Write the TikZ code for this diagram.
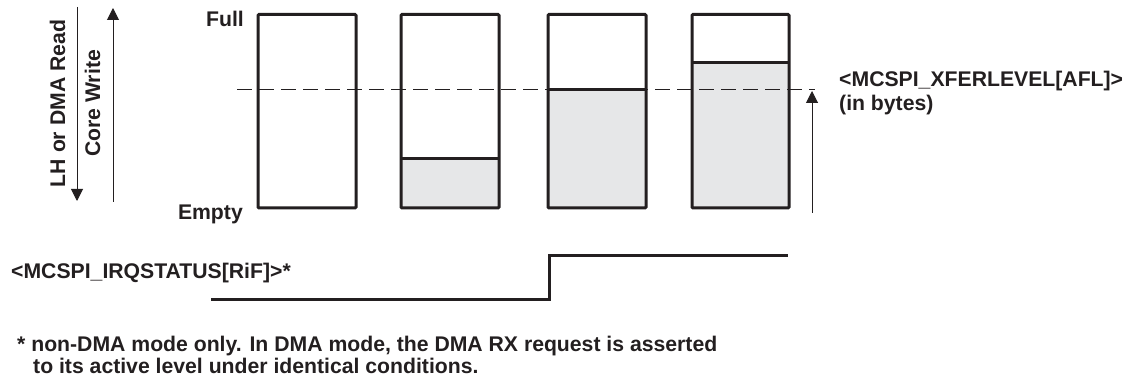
\documentclass[tikz,border=0pt]{standalone}
\usepackage{fontspec}
\setmainfont{Liberation Sans}
\usetikzlibrary{arrows.meta}
\definecolor{ink}{HTML}{231F20}
\definecolor{fifo}{HTML}{E6E7E8}
\begin{document}
\begin{tikzpicture}[x=1pt,y=-1pt,
  lbl/.style={font=\fontsize{21.2}{25}\selectfont\bfseries, text=ink, inner sep=0pt},
  fifobox/.style={draw=ink, line width=3pt, rounded corners=1pt},
  level/.style={draw=ink, line width=3pt},
  thinarrow/.style={draw=ink, line width=1pt, -{Triangle[length=12pt,width=12pt]}},
  threshold/.style={draw=ink, line width=1pt, dash pattern=on 15pt off 7pt},
  signal/.style={draw=ink, line width=3pt}]
\useasboundingbox (0,0) rectangle (1127,379);

% FIFO boxes
\draw[fifobox, fill=white] (258,14.5) rectangle (356,208);
\fill[fifo] (401,159) rectangle (499,208);
\draw[fifobox] (401,14.5) rectangle (499,208);
\draw[level] (401,159) -- (499,159);
\fill[fifo] (548,90) rectangle (646,208);
\draw[fifobox] (548,14.5) rectangle (646,208);
\draw[level] (548,90) -- (646,90);
\fill[fifo] (692,63) rectangle (789,208);
\draw[fifobox] (692,14.5) rectangle (789,208);
\draw[level] (692,63) -- (789,63);

% threshold
\coordinate (ths) at (237,90);
\coordinate (the) at (815,90);
\draw[threshold] (ths) -- (the);

% arrows
\coordinate (lhT) at (77,7);
\coordinate (lhB) at (77,201);
\coordinate (cwB) at (113,202);
\coordinate (cwT) at (113,8);
\coordinate (aflB) at (812,213);
\coordinate (aflT) at (812,91);
\draw[thinarrow] (lhT) -- (lhB);
\draw[thinarrow] (cwB) -- (cwT);
\draw[thinarrow] (aflB) -- (aflT);

% labels
\node[lbl, rotate=90, anchor=base] (lh) at (65,103.5) {LH or DMA Read};
\node[lbl, rotate=90, anchor=base] (cw) at (100,103.5) {Core Write};
\node[lbl, anchor=base east] (full) at (244,27) {Full};
\node[lbl, anchor=base east] (empty) at (243,220) {Empty};
\node[lbl, anchor=base west] (afl) at (839,87) {<MCSPI\_XFERLEVEL[AFL]>};
\node[lbl, anchor=base west] (bytes) at (839,111) {(in bytes)};
\node[lbl, anchor=base west] (irq) at (11,279) {<MCSPI\_IRQSTATUS[RiF]>*};
\node[lbl, anchor=base west] (fn1) at (17,352) {* non-DMA mode only. In DMA mode, the DMA RX request is asserted};
\node[lbl, anchor=base west] (fn2) at (33,373) {to its active level under identical conditions.};

% IRQ signal
\coordinate (s0) at (211,300);
\coordinate (s1) at (549,300);
\coordinate (s2) at (549,256);
\coordinate (s3) at (788,256);
\draw[signal] (s0) -- (s1) -- (s2) -- (s3);
\end{tikzpicture}
\end{document}
